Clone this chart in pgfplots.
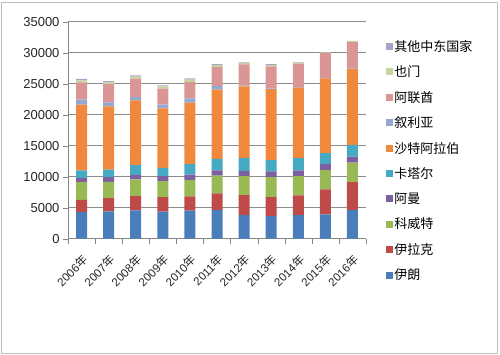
\documentclass[border=0pt]{standalone}
\usepackage{pgfplots}
\pgfplotsset{compat=1.18}
\usepackage{pgfplotstable}
\usepackage{fontspec}
\setmainfont{Liberation Sans}
\newfontfamily\cjk{Noto Sans CJK SC}
\definecolor{c1}{HTML}{4A7EBB}
\definecolor{c2}{HTML}{BE4B48}
\definecolor{c3}{HTML}{98B954}
\definecolor{c4}{HTML}{7D60A0}
\definecolor{c5}{HTML}{46AAC5}
\definecolor{c6}{HTML}{F0883E}
\definecolor{c7}{HTML}{93A9CF}
\definecolor{c8}{HTML}{D99694}
\definecolor{c9}{HTML}{C3D69B}
\definecolor{c10}{HTML}{ABA1C9}
\definecolor{axisgray}{HTML}{868686}
\definecolor{gridgray}{HTML}{8C8C8C}
\definecolor{bordergray}{HTML}{BFBFBF}
\pgfplotstableread{
x iran iraq kuwait oman qatar saudi syria uae yemen other
0 4290 1990 2840 700 1180 10620 800 2790 320 260
1 4400 2150 2620 760 1230 10190 650 2950 270 210
2 4560 2310 2680 750 1560 10460 530 2960 320 210
3 4350 2360 2570 810 1340 9600 590 2580 370 160
4 4510 2300 2630 910 1670 9920 700 2630 370 220
5 4610 2690 2890 810 1880 11160 590 3050 330 160
6 3810 3220 3060 860 2030 11590 100 3440 220 100
7 3650 3060 3220 910 1820 11480 100 3550 220 160
8 3810 3160 3120 910 1980 11380 100 3760 160 110
9 3920 4020 3110 970 1770 12070 60 4030 110 50
10 4610 4510 3170 960 1880 12280 50 4300 80 60
}\datatable
\begin{document}
\begin{tikzpicture}
\useasboundingbox (0,0) rectangle (500bp,355bp);
\draw[bordergray] (1.5bp,1.5bp) rectangle (497bp,353bp);
\begin{axis}[
  at={(68bp,116.3bp)}, anchor=south west,
  scale only axis, width=298bp, height=217bp,
  ybar stacked, bar width=11bp,
  xmin=-0.5, xmax=10.5, ymin=0, ymax=35000,
  xtick={0,...,10},
  xticklabels={2006{\cjk 年},2007{\cjk 年},2008{\cjk 年},2009{\cjk 年},2010{\cjk 年},2011{\cjk 年},2012{\cjk 年},2013{\cjk 年},2014{\cjk 年},2015{\cjk 年},2016{\cjk 年}},
  minor xtick={-0.5,0.5,...,10.5},
  ytick={0,5000,...,35000},
  scaled y ticks=false,
  /pgf/number format/assume math mode=true,
  /pgf/number format/set thousands separator={},
  axis x line*=bottom, axis y line*=left,
  axis line style={draw=axisgray,-},
  ymajorgrids, grid style={gridgray, line width=0.7pt},
  tick align=outside, major tick length=5bp, minor tick length=5bp,
  major x tick style={draw=none}, minor x tick style={draw=axisgray},
  ytick style={draw=axisgray},
  tick label style={font=\fontsize{13bp}{15bp}\selectfont, text=black!85},
  xticklabel style={font=\fontsize{11.5bp}{13bp}\selectfont, yshift=-10bp, xshift=0bp, rotate=45, anchor=north east, inner sep=0pt},
  reverse legend,
  legend style={draw=none, fill=none, at={(1.066,0.9226)}, anchor=north west,
    font=\fontsize{13bp}{15bp}\selectfont\cjk, row sep=10bp, inner sep=0pt,
    nodes={inner sep=1.5bp}},
  legend cell align=left,
  legend image code/.code={\fill[#1] (0bp,-3.5bp) rectangle (7bp,3.5bp);},
]
\addplot[fill=c1, draw=none] table[x=x,y=iran]{\datatable};
\addlegendentry{伊朗}
\addplot[fill=c2, draw=none] table[x=x,y=iraq]{\datatable};
\addlegendentry{伊拉克}
\addplot[fill=c3, draw=none] table[x=x,y=kuwait]{\datatable};
\addlegendentry{科威特}
\addplot[fill=c4, draw=none] table[x=x,y=oman]{\datatable};
\addlegendentry{阿曼}
\addplot[fill=c5, draw=none] table[x=x,y=qatar]{\datatable};
\addlegendentry{卡塔尔}
\addplot[fill=c6, draw=none] table[x=x,y=saudi]{\datatable};
\addlegendentry{沙特阿拉伯}
\addplot[fill=c7, draw=none] table[x=x,y=syria]{\datatable};
\addlegendentry{叙利亚}
\addplot[fill=c8, draw=none] table[x=x,y=uae]{\datatable};
\addlegendentry{阿联酋}
\addplot[fill=c9, draw=none] table[x=x,y=yemen]{\datatable};
\addlegendentry{也门}
\addplot[fill=c10, draw=none] table[x=x,y=other]{\datatable};
\addlegendentry{其他中东国家}
\end{axis}
\end{tikzpicture}
\end{document}
